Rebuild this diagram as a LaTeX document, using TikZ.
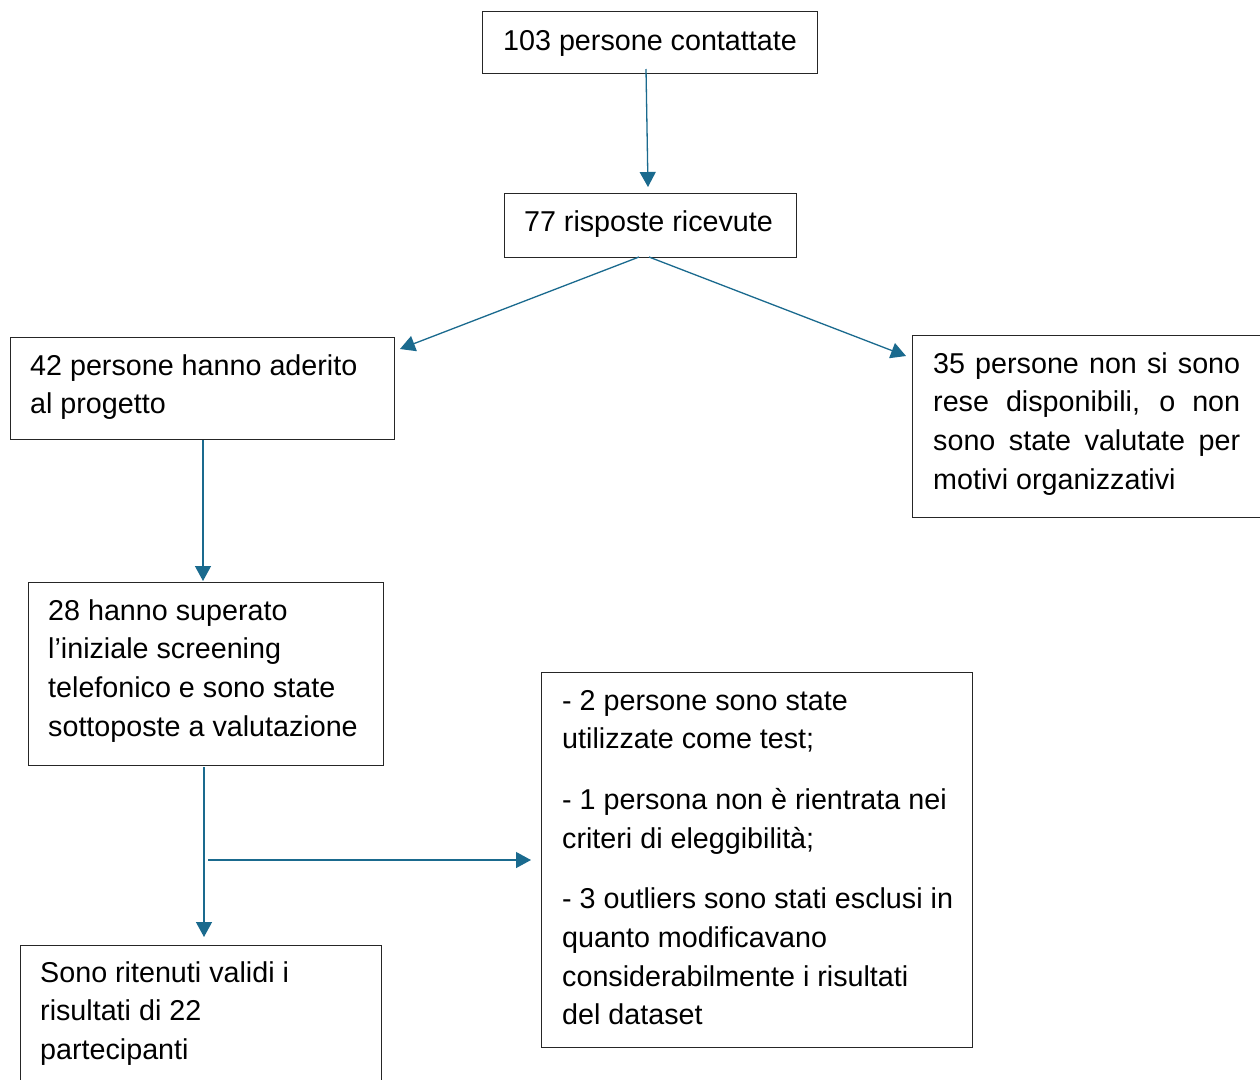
\documentclass[tikz,border=0pt]{standalone}
\usepackage{fontspec}
\setmainfont{Liberation Sans}
\usetikzlibrary{arrows.meta,calc}
\definecolor{arrc}{HTML}{1A6A8E}
\definecolor{boxc}{HTML}{262626}
\tikzset{
  box/.style={draw=boxc, line width=1.2pt, rectangle, inner sep=0pt, anchor=north west},
  txt/.style={inner sep=0pt, font=\fontsize{28.7}{38.7}\selectfont},
  arr/.style={draw=arrc, line width=1.3pt, -{Triangle[length=15pt,width=16pt]}}
}
\begin{document}
\begin{tikzpicture}[x=1pt,y=-1pt]
\useasboundingbox[fill=white] (0,0) rectangle (1260,1079);
% boxes
\node[box, minimum width=335pt, minimum height=62pt] (A) at (482,11) {};
\node[box, minimum width=292pt, minimum height=64pt] (B) at (504,193) {};
\node[box, minimum width=384pt, minimum height=102pt] (C) at (10,337) {};
\node[box, minimum width=352pt, minimum height=182pt] (D) at (912,335) {};
\node[box, minimum width=355pt, minimum height=183pt] (E) at (28,582) {};
\node[box, minimum width=431pt, minimum height=375pt] (F) at (541,672) {};
\node[box, minimum width=361pt, minimum height=150pt] (G) at (20,945) {};
% texts
\node[txt, anchor=base] (At) at (650,50) {103 persone contattate};
\node[txt, anchor=base] (Bt) at (648.5,231) {77 risposte ricevute};
\node[txt, anchor=base west] (Ct) at (30,375) {\parbox[t]{360pt}{42 persone hanno aderito\\al progetto}};
\node[txt, anchor=base west] (Dt) at (933,373) {\parbox[t]{307pt}{\makebox[307pt][s]{35 persone non si sono}\\\makebox[307pt][s]{rese disponibili, o non}\\\makebox[307pt][s]{sono state valutate per}\\motivi organizzativi}};
\node[txt, anchor=base west] (Et) at (48,620) {\parbox[t]{330pt}{28 hanno superato\\l’iniziale screening\\telefonico e sono state\\sottoposte a valutazione}};
\node[txt, anchor=base west] (Ft) at (562,710) {\parbox[t]{405pt}{- 2 persone sono state\\utilizzate come test;\\[22pt]- 1 persona non è rientrata nei\\criteri di eleggibilità;\\[22pt]- 3 outliers sono stati esclusi in\\quanto modificavano\\considerabilmente i risultati\\del dataset}};
\node[txt, anchor=base west] (Gt) at (40,982) {\parbox[t]{330pt}{Sono ritenuti validi i\\risultati di 22\\partecipanti}};
% connector end points
\coordinate (a-out) at (646,69);
\coordinate (b-in) at (648,187);
\coordinate (bl-out) at (639,257);
\coordinate (br-out) at (649,257);
\coordinate (c-in) at (400,349);
\coordinate (d-in) at (906,356);
\coordinate (c-out) at (203,440);
\coordinate (e-in) at (203,581);
\coordinate (e-out) at (204,767);
\coordinate (g-in) at (204,937);
\coordinate (br2-out) at (208,860);
\coordinate (f-in) at (531,860);
% connectors
\draw[arr] (a-out) -- (b-in);
\draw[arr] (bl-out) -- (c-in);
\draw[arr] (br-out) -- (d-in);
\draw[arr] (c-out) -- (e-in);
\draw[arr] (e-out) -- (g-in);
\draw[arr] (br2-out) -- (f-in);
\end{tikzpicture}
\end{document}
